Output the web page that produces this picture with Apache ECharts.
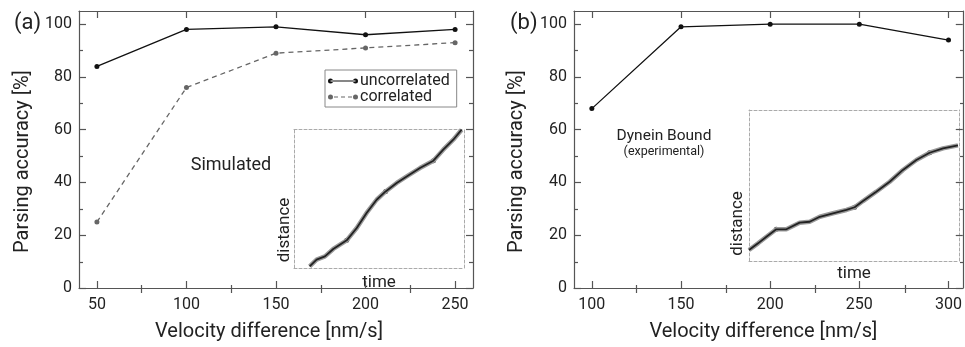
<!DOCTYPE html>
<html><head><meta charset="utf-8">
<script src="https://cdn.jsdelivr.net/npm/echarts@6/dist/echarts.min.js"></script>
<style>html,body{margin:0;padding:0;background:#fff}#c{width:965px;height:347px}</style>
</head><body><div id="c"></div>
<script>
// ---- data ----
const xA = [50, 100, 150, 200, 250];
const uncorrelated = [84, 98, 99, 96, 98];
const correlated = [25, 76, 89, 91, 93];
const xB = [100, 150, 200, 250, 300];
const dynein = [68, 99, 100, 100, 94];
const yMajor = [0, 20, 40, 60, 80, 100];
const yMinor = [10, 30, 50, 70, 90];
const xMajorA = [50, 100, 150, 200, 250];
const xMinorA = [75, 125, 175, 225];
const xMajorB = [100, 150, 200, 250, 300];
const xMinorB = [125, 175, 225, 275];
// inset traces (arbitrary time / distance units)
const simTime = [9.2, 13.3, 18.2, 23.1, 31.0, 36.9, 42.7, 48.6, 53.9, 60.4, 66.3, 74.1, 82.0, 87.8, 93.7, 98.6];
const simDist = [1.2, 6.0, 8.4, 13.7, 19.9, 28.8, 39.6, 49.1, 55.1, 61.2, 65.9, 71.9, 77.2, 85.1, 92.3, 99.5];
const simStepT = [31.0, 53.9, 82.0];
const simStepD = [19.9, 55.1, 77.2];
const expTime = [0, 4.3, 8.3, 13.0, 17.8, 24.1, 28.9, 33.7, 40.0, 46.4, 50.3, 54.3, 60.6, 67.0, 73.3, 79.7, 86.0, 92.4, 99.5];
const expDist = [7.3, 11.7, 16.1, 21.0, 21.0, 25.4, 26.0, 29.3, 31.6, 33.8, 35.6, 39.7, 45.9, 52.5, 60.3, 66.9, 71.7, 74.6, 76.6];
const expStepT = [13.0, 50.3, 86.0];
const expStepD = [21.0, 35.6, 71.7];

const zip = (a, b) => a.map((v, i) => [v, b[i]]);
const FONT = 'Roboto';
const AX = '#555';
const TXT = '#222';

const chart = echarts.init(document.getElementById('c'), null, {renderer: 'canvas'});

const gA = {left: 79, top: 11, right: 492, bottom: 58};
const gB = {left: 574, top: 11, right: 1, bottom: 58};
const insA = {left: 294, top: 129, width: 170, height: 139};
const insB = {left: 749, top: 110, width: 210, height: 151};

function grid(g) { return Object.assign({containLabel: false, show: false}, g); }

function mainX(gi, min, max, major, name, pos, shift) {
  const bottom = pos === 'bottom';
  return {
    type: 'value', gridIndex: gi, min, max, position: pos,
    name: bottom ? name : '', nameLocation: 'middle', nameGap: 34,
    nameTextStyle: {fontFamily: FONT, fontSize: 20, color: TXT, padding: [0, shift, 0, 0]},
    axisLine: {show: true, onZero: false, lineStyle: {color: AX, width: 1.2}},
    axisTick: {show: true, inside: true, length: 7, customValues: major, lineStyle: {color: AX, width: 1.2}},
    axisLabel: {show: bottom, customValues: major, margin: 9, fontFamily: FONT, fontSize: 16, color: TXT},
    splitLine: {show: false}
  };
}
function mainY(gi, pos, nameGap) {
  const left = pos === 'left';
  return {
    type: 'value', gridIndex: gi, min: 0, max: 105, position: pos,
    name: left ? 'Parsing accuracy [%]' : '', nameLocation: 'middle', nameGap,
    nameTextStyle: {fontFamily: FONT, fontSize: 20, color: TXT, padding: [0, 24, 0, 0]},
    axisLine: {show: true, onZero: false, lineStyle: {color: AX, width: 1.2}},
    axisTick: {show: true, inside: true, length: 7, customValues: yMajor, lineStyle: {color: AX, width: 1.2}},
    axisLabel: {show: left, customValues: yMajor, margin: 7, fontFamily: FONT, fontSize: 16, color: TXT},
    splitLine: {show: false}
  };
}
function minorX(gi, min, max, minor, pos) {
  return {type: 'value', gridIndex: gi, min, max, position: pos,
    axisLine: {show: false}, axisLabel: {show: false}, splitLine: {show: false},
    axisTick: {show: true, inside: true, length: 4, customValues: minor, lineStyle: {color: AX, width: 1.2}}};
}
function minorY(gi, pos) {
  return {type: 'value', gridIndex: gi, min: 0, max: 105, position: pos,
    axisLine: {show: false}, axisLabel: {show: false}, splitLine: {show: false},
    axisTick: {show: true, inside: true, length: 4, customValues: yMinor, lineStyle: {color: AX, width: 1.2}}};
}
function insetX(gi, pos, nameGap) {
  return {type: 'value', gridIndex: gi, min: 0, max: 100, position: pos,
    name: pos === 'bottom' ? 'time' : '', nameLocation: 'middle', nameGap,
    nameTextStyle: {fontFamily: FONT, fontSize: 17, color: TXT},
    axisLine: {show: true, onZero: false, lineStyle: {color: '#aaa', type: [3, 2], width: 1}},
    axisTick: {show: false}, axisLabel: {show: false}, splitLine: {show: false}};
}
function insetY(gi, pos) {
  return {type: 'value', gridIndex: gi, min: 0, max: 100, position: pos,
    axisLine: {show: true, onZero: false, lineStyle: {color: '#aaa', type: [3, 2], width: 1}},
    axisTick: {show: false}, axisLabel: {show: false}, splitLine: {show: false}};
}

const solidIcon = 'path://M0,4a2.5,2.5 0 1,0 5,0a2.5,2.5 0 1,0 -5,0z' +
  'M2.5,3.4L27.5,3.4L27.5,4.6L2.5,4.6z' +
  'M25,4a2.5,2.5 0 1,0 5,0a2.5,2.5 0 1,0 -5,0z';
const dashIcon = 'path://M0,4a2.5,2.5 0 1,0 5,0a2.5,2.5 0 1,0 -5,0z' +
  'M6,3.4L10,3.4L10,4.6L6,4.6z' +
  'M13,3.4L17,3.4L17,4.6L13,4.6z' +
  'M20,3.4L24,3.4L24,4.6L20,4.6z' +
  'M25,4a2.5,2.5 0 1,0 5,0a2.5,2.5 0 1,0 -5,0z';

function label(text, x, y, size, rot) {
  return {type: 'text', x, y, rotation: rot || 0, silent: true,
    style: {text, fontFamily: FONT, fontSize: size, fill: TXT, align: 'center', verticalAlign: 'middle'}};
}

const option = {
  animation: false,
  backgroundColor: '#fff',
  textStyle: {fontFamily: FONT},
  title: [
    {text: '(a)', left: 9, top: 7, textStyle: {fontFamily: FONT, fontSize: 22, fontWeight: 'normal', color: TXT}},
    {text: '(b)', left: 505, top: 7, textStyle: {fontFamily: FONT, fontSize: 22, fontWeight: 'normal', color: TXT}}
  ],
  graphic: [
    label('Simulated', 231, 165, 18),
    label('Dynein Bound', 664, 136, 15.5),
    label('(experimental)', 664, 152, 12.5),
    label('distance', 285, 230, 17, Math.PI / 2),
    label('distance', 738, 223.5, 17, Math.PI / 2)
  ],
  legend: {
    data: [{name: 'uncorrelated', icon: solidIcon}, {name: 'correlated', icon: dashIcon}],
    orient: 'vertical', left: 325, top: 70,
    borderColor: '#888', borderWidth: 1, padding: [3, 7, 2, 3], itemGap: 0,
    itemWidth: 30, itemHeight: 5,
    textStyle: {fontFamily: FONT, fontSize: 16, color: TXT, lineHeight: 16, padding: [0, 0, 0, -3]}
  },
  grid: [grid(gA), grid(gA), grid(insA), grid(gB), grid(gB), grid(insB)],
  xAxis: [
    mainX(0, 40, 260, xMajorA, 'Velocity difference [nm/s]', 'bottom', 14),
    mainX(0, 40, 260, xMajorA, '', 'top', 0),
    minorX(1, 40, 260, xMinorA, 'bottom'),
    minorX(1, 40, 260, xMinorA, 'top'),
    insetX(2, 'bottom', 6),
    insetX(2, 'top', 0),
    mainX(3, 90, 308, xMajorB, 'Velocity difference [nm/s]', 'bottom', 10),
    mainX(3, 90, 308, xMajorB, '', 'top', 0),
    minorX(4, 90, 308, xMinorB, 'bottom'),
    minorX(4, 90, 308, xMinorB, 'top'),
    insetX(5, 'bottom', 4),
    insetX(5, 'top', 0)
  ],
  yAxis: [
    mainY(0, 'left', 46),
    mainY(0, 'right', 0),
    minorY(1, 'left'),
    minorY(1, 'right'),
    insetY(2, 'left'),
    insetY(2, 'right'),
    mainY(3, 'left', 47),
    mainY(3, 'right', 0),
    minorY(4, 'left'),
    minorY(4, 'right'),
    insetY(5, 'left'),
    insetY(5, 'right')
  ],
  series: [
    {name: 'uncorrelated', type: 'line', xAxisIndex: 0, yAxisIndex: 0, data: zip(xA, uncorrelated),
      symbol: 'circle', symbolSize: 5, itemStyle: {color: '#111'}, lineStyle: {color: '#111', width: 1.3}},
    {name: 'correlated', type: 'line', xAxisIndex: 0, yAxisIndex: 0, data: zip(xA, correlated),
      symbol: 'circle', symbolSize: 5, itemStyle: {color: '#666'}, lineStyle: {color: '#666', width: 1.3, type: [5, 4]}},
    {name: 'sim-band', type: 'line', xAxisIndex: 4, yAxisIndex: 4, data: zip(simTime, simDist),
      symbol: 'none', lineStyle: {color: '#9a9a9a', width: 4.5}},
    {name: 'sim-fit', type: 'line', xAxisIndex: 4, yAxisIndex: 4, data: zip(simTime, simDist),
      symbol: 'none', lineStyle: {color: '#222', width: 1.8}},
    {name: 'sim-steps', type: 'scatter', xAxisIndex: 4, yAxisIndex: 4, data: zip(simStepT, simStepD),
      symbolSize: 5, itemStyle: {color: '#000'}},
    {name: 'dynein', type: 'line', xAxisIndex: 6, yAxisIndex: 6, data: zip(xB, dynein),
      symbol: 'circle', symbolSize: 5, itemStyle: {color: '#111'}, lineStyle: {color: '#111', width: 1.3}},
    {name: 'exp-band', type: 'line', xAxisIndex: 10, yAxisIndex: 10, data: zip(expTime, expDist),
      symbol: 'none', lineStyle: {color: '#9a9a9a', width: 4.5}},
    {name: 'exp-fit', type: 'line', xAxisIndex: 10, yAxisIndex: 10, data: zip(expTime, expDist),
      symbol: 'none', lineStyle: {color: '#222', width: 1.8}},
    {name: 'exp-steps', type: 'scatter', xAxisIndex: 10, yAxisIndex: 10, data: zip(expStepT, expStepD),
      symbolSize: 5, itemStyle: {color: '#000'}}
  ]
};
chart.setOption(option);
</script>
</body></html>
